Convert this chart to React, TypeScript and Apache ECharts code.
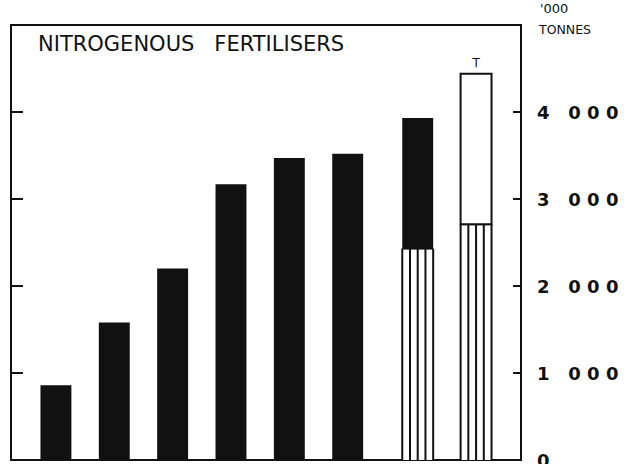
import React, { useEffect, useRef } from "react";
import * as echarts from "echarts";

// Bar slot positions along the (hidden) horizontal axis; the last two bars stand a little apart
const positions = [1, 2, 3, 4, 5, 6, 7.2, 8.2];
// Total height of each bar, '000 tonnes
const totals = [860, 1580, 2200, 3170, 3470, 3520, 3930, 4440];
// Lower, vertically hatched part of the bar ('000 tonnes), 0 where absent
const hatched = [0, 0, 0, 0, 0, 0, 2430, 2710];
// Upper part style: solid black or open (white with outline)
const upperKind = ["solid", "solid", "solid", "solid", "solid", "solid", "solid", "open"];
// Small note above a bar
const notes = ["", "", "", "", "", "", "", "T"];

const titleText = "NITROGENOUS   FERTILISERS";
const unitLine1 = "'000";
const unitLine2 = "TONNES";

const INK = "#111";
const BAR_UNITS = 0.53;

function fmtTick(v: number): string {
  if (v === 0) return "0";
  if (v >= 5000) return "";
  const th = Math.floor(v / 1000);
  return `${th}   0 0 0`;
}

export default function App() {
  const ref = useRef<HTMLDivElement>(null);
  useEffect(() => {
    if (!ref.current) return;
    const chart = echarts.init(ref.current, null, { renderer: "svg" });

    const solidData: any[] = [];
    const hatchData: any[] = [];
    const openData: any[] = [];
    positions.forEach((p, i) => {
      if (hatched[i] > 0) hatchData.push([p, 0, hatched[i]]);
      const lo = hatched[i];
      if (upperKind[i] === "solid") solidData.push([p, lo, totals[i], notes[i]]);
      else openData.push([p, lo, totals[i], notes[i]]);
    });

    const geom = (api: any) => {
      const x = api.value(0);
      const a = api.coord([x, api.value(1)]);
      const b = api.coord([x, api.value(2)]);
      const w = api.size([BAR_UNITS, 0])[0];
      return { x0: a[0] - w / 2, y0: b[1], w, h: a[1] - b[1], cx: a[0] };
    };

    chart.setOption({
      animation: false,
      backgroundColor: "#fff",
      title: {
        text: titleText,
        left: 33,
        top: 28,
        textStyle: {
          fontFamily: "DejaVu Sans",
          fontWeight: "normal",
          fontSize: 21,
          color: INK,
        },
      },
      grid: {
        left: 11,
        right: 115,
        top: 25,
        bottom: 4,
        outerBoundsMode: "none",
        containLabel: false,
        show: true,
        borderColor: INK,
        borderWidth: 2,
        backgroundColor: "transparent",
      },
      xAxis: {
        type: "value",
        min: 0.23,
        max: 8.97,
        show: false,
      },
      yAxis: [
        {
          type: "value",
          position: "right",
          min: 0,
          max: 5000,
          interval: 1000,
          splitLine: { show: false },
          axisLine: { show: true, lineStyle: { color: INK, width: 2 } },
          axisTick: { show: true, inside: true, length: 8, lineStyle: { color: INK, width: 2 } },
          axisLabel: {
            show: true,
            margin: 16,
            formatter: (v: number) => fmtTick(v),
            fontFamily: "DejaVu Sans",
            fontWeight: "bold",
            fontSize: 18,
            color: INK,
          },
        },
        {
          type: "value",
          position: "left",
          min: 0,
          max: 5000,
          interval: 1000,
          splitLine: { show: false },
          axisLine: { show: true, lineStyle: { color: INK, width: 2 } },
          axisTick: { show: true, inside: true, length: 12, lineStyle: { color: INK, width: 2 } },
          axisLabel: { show: false },
        },
      ],
      graphic: [
        {
          type: "text",
          left: 540,
          top: 2,
          style: { text: unitLine1, fontFamily: "DejaVu Sans", fontSize: 13, fill: INK },
        },
        {
          type: "text",
          left: 539,
          top: 23,
          style: { text: unitLine2, fontFamily: "DejaVu Sans", fontSize: 12.5, fill: INK },
        },
      ],
      series: [
        {
          type: "custom",
          name: "hatched",
          data: hatchData,
          renderItem: (_p: any, api: any) => {
            const g = geom(api);
            const children: any[] = [
              { type: "rect", shape: { x: g.x0, y: g.y0, width: g.w, height: g.h }, style: { fill: "#fff" } },
            ];
            for (let k = 0; k <= 4; k++) {
              const lx = g.x0 + (g.w * k) / 4;
              children.push({
                type: "line",
                shape: { x1: lx, y1: g.y0, x2: lx, y2: g.y0 + g.h },
                style: { stroke: INK, lineWidth: 2 },
              });
            }
            children.push({
              type: "line",
              shape: { x1: g.x0, y1: g.y0, x2: g.x0 + g.w, y2: g.y0 },
              style: { stroke: INK, lineWidth: 2 },
            });
            return { type: "group", children };
          },
        },
        {
          type: "custom",
          name: "solid",
          data: solidData,
          renderItem: (_p: any, api: any) => {
            const g = geom(api);
            return {
              type: "rect",
              shape: { x: g.x0, y: g.y0, width: g.w, height: g.h },
              style: { fill: INK },
            };
          },
        },
        {
          type: "custom",
          name: "open",
          data: openData,
          renderItem: (_p: any, api: any) => {
            const g = geom(api);
            return {
              type: "group",
              children: [
                {
                  type: "rect",
                  shape: { x: g.x0, y: g.y0, width: g.w, height: g.h },
                  style: { fill: "#fff", stroke: INK, lineWidth: 2 },
                },
                {
                  type: "text",
                  style: {
                    text: String(api.value(3) || ""),
                    x: g.cx,
                    y: g.y0 - 11,
                    align: "center",
                    verticalAlign: "middle",
                    fontFamily: "DejaVu Sans",
                    fontSize: 12,
                    fill: INK,
                  },
                },
              ],
            };
          },
        },
      ],
    });
    return () => chart.dispose();
  }, []);
  return (
    <div
      ref={ref}
      style={{ position: "fixed", left: 0, top: 0, width: 636, height: 464, background: "#fff" }}
    />
  );
}
